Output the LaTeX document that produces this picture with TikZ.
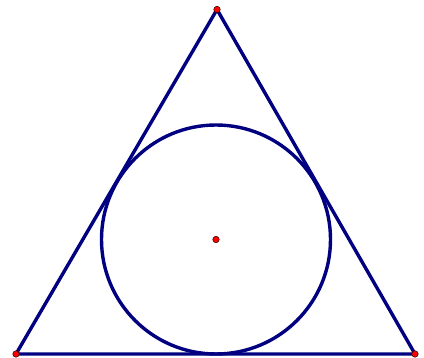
\documentclass[tikz,border=0pt]{standalone}
\begin{document}
\begin{tikzpicture}[x=1pt,y=-1pt,
  edge/.style={draw={rgb,255:red,0;green,0;blue,128},line width=3.4pt,line join=miter},
  pt/.style={circle,fill=red,draw={rgb,255:red,40;green,0;blue,0},line width=0.5pt,inner sep=0pt,minimum size=6.5pt}]
\useasboundingbox (0,0) rectangle (424,358);
\coordinate (A) at (217,9.5);
\coordinate (B) at (16,354);
\coordinate (C) at (415,354);
\coordinate (O) at (216,239.5);
\draw[edge] (A) -- (B) -- (C) -- cycle;
\draw[edge] (O) circle (114.5);
\node[pt] (pA) at (A) {};
\node[pt] (pB) at (B) {};
\node[pt] (pC) at (C) {};
\node[pt] (pO) at (O) {};
\end{tikzpicture}
\end{document}
